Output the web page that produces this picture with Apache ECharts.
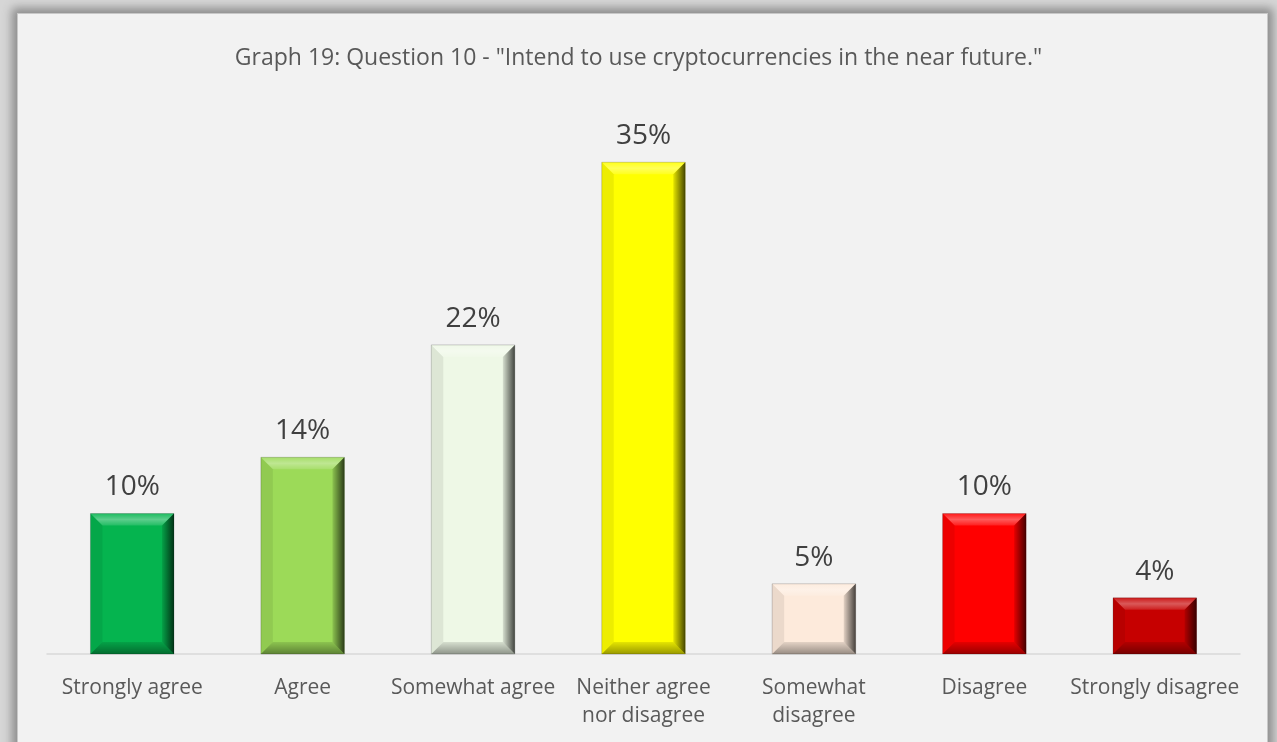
<!DOCTYPE html>
<html>
<head>
<meta charset="utf-8">
<script src="https://cdn.jsdelivr.net/npm/echarts@6/dist/echarts.min.js"></script>
<style>
  html, body { margin: 0; padding: 0; width: 1277px; height: 742px; overflow: hidden; background: #d6d6d6; }
  #frame {
    position: absolute; left: 17px; top: 13px; width: 1249px; height: 760px;
    background: #f2f2f2; border: 1px solid #c8c8c8;
    box-shadow: 0 0 9px 5px #8c8c8c;
  }
  #chart { position: absolute; left: 0; top: 0; width: 1277px; height: 742px; }
</style>
</head>
<body>
<div id="frame"></div>
<div id="chart"></div>
<script>
// Survey answers and the share of respondents for each
const categories = ['Strongly agree', 'Agree', 'Somewhat agree', 'Neither agree\nnor disagree', 'Somewhat\ndisagree', 'Disagree', 'Strongly disagree'];
const shares = [10, 14, 22, 35, 5, 10, 4];
const barColors = ['#05b44f', '#9cda58', '#eef8e6', '#ffff00', '#fdeadb', '#ff0000', '#c60000'];
const titleText = 'Graph 19: Question 10 - "Intend to use cryptocurrencies in the near future."';

const FONT = '"Open Sans", "Noto Sans", sans-serif';
const BAR_RATIO = 0.49;

const chart = echarts.init(document.getElementById('chart'), null, { renderer: 'canvas' });

// Bevelled edges laid over each bar
function renderBevel(params, api) {
  const idx = api.value(0);
  const val = api.value(1);
  const top = api.coord([idx, val]);
  const base = api.coord([idx, 0]);
  const w = api.size([1, 0])[0] * BAR_RATIO;
  const x0 = top[0] - w / 2, x1 = top[0] + w / 2;
  const y0 = top[1], y1 = base[1];
  const h = y1 - y0;
  const b = Math.min(12, w / 4, h / 3);
  const poly = (pts, fill) => ({ type: 'polygon', shape: { points: pts }, style: { fill: fill }, silent: true });
  return {
    type: 'group',
    children: [
      // top face highlight
      poly([[x0, y0], [x1, y0], [x1 - b, y0 + b], [x0 + b, y0 + b]],
        new echarts.graphic.LinearGradient(0, 0, 0, 1, [
          { offset: 0, color: 'rgba(255,255,255,0.10)' },
          { offset: 0.5, color: 'rgba(255,255,255,0.35)' },
          { offset: 1, color: 'rgba(255,255,255,0.12)' }
        ])),
      // left face
      poly([[x0, y0], [x0 + b, y0 + b], [x0 + b, y1 - b], [x0, y1]], 'rgba(0,0,0,0.07)'),
      // right face shading
      poly([[x1, y0], [x1, y1], [x1 - b, y1 - b], [x1 - b, y0 + b]],
        new echarts.graphic.LinearGradient(0, 0, 1, 0, [
          { offset: 0, color: 'rgba(0,0,0,0.10)' },
          { offset: 1, color: 'rgba(0,0,0,0.72)' }
        ])),
      // bottom face shading
      poly([[x0, y1], [x0 + b, y1 - b], [x1 - b, y1 - b], [x1, y1]],
        new echarts.graphic.LinearGradient(0, 0, 0, 1, [
          { offset: 0, color: 'rgba(0,0,0,0.10)' },
          { offset: 1, color: 'rgba(0,0,0,0.40)' }
        ])),
      // outline
      { type: 'rect', shape: { x: x0, y: y0, width: w, height: h },
        style: { fill: null, stroke: 'rgba(0,0,0,0.18)', lineWidth: 1 }, silent: true }
    ]
  };
}

chart.setOption({
  animation: false,
  title: {
    text: titleText,
    left: 'center',
    top: 42,
    textStyle: { fontFamily: FONT, fontSize: 23, fontWeight: 'normal', color: '#595959' }
  },
  grid: { left: 47, right: 37, top: 92, bottom: 88, containLabel: false },
  xAxis: {
    type: 'category',
    data: categories,
    axisLine: { lineStyle: { color: '#d9d9d9', width: 1.5 } },
    axisTick: { show: false },
    axisLabel: { interval: 0, margin: 20, fontFamily: FONT, fontSize: 21, color: '#595959', lineHeight: 28 }
  },
  yAxis: {
    type: 'value', min: 0, max: 40, show: false,
    splitLine: { show: false }
  },
  series: [
    {
      type: 'bar',
      data: shares.map((v, i) => ({ value: v, itemStyle: { color: barColors[i] } })),
      barWidth: (BAR_RATIO * 100) + '%',
      label: {
        show: true, position: 'top', distance: 12,
        formatter: p => p.value + '%',
        fontFamily: FONT, fontSize: 28, color: '#404040'
      },
      z: 2
    },
    {
      type: 'custom',
      renderItem: renderBevel,
      data: shares.map((v, i) => [i, v]),
      z: 3,
      silent: true
    }
  ]
});
</script>
</body>
</html>
